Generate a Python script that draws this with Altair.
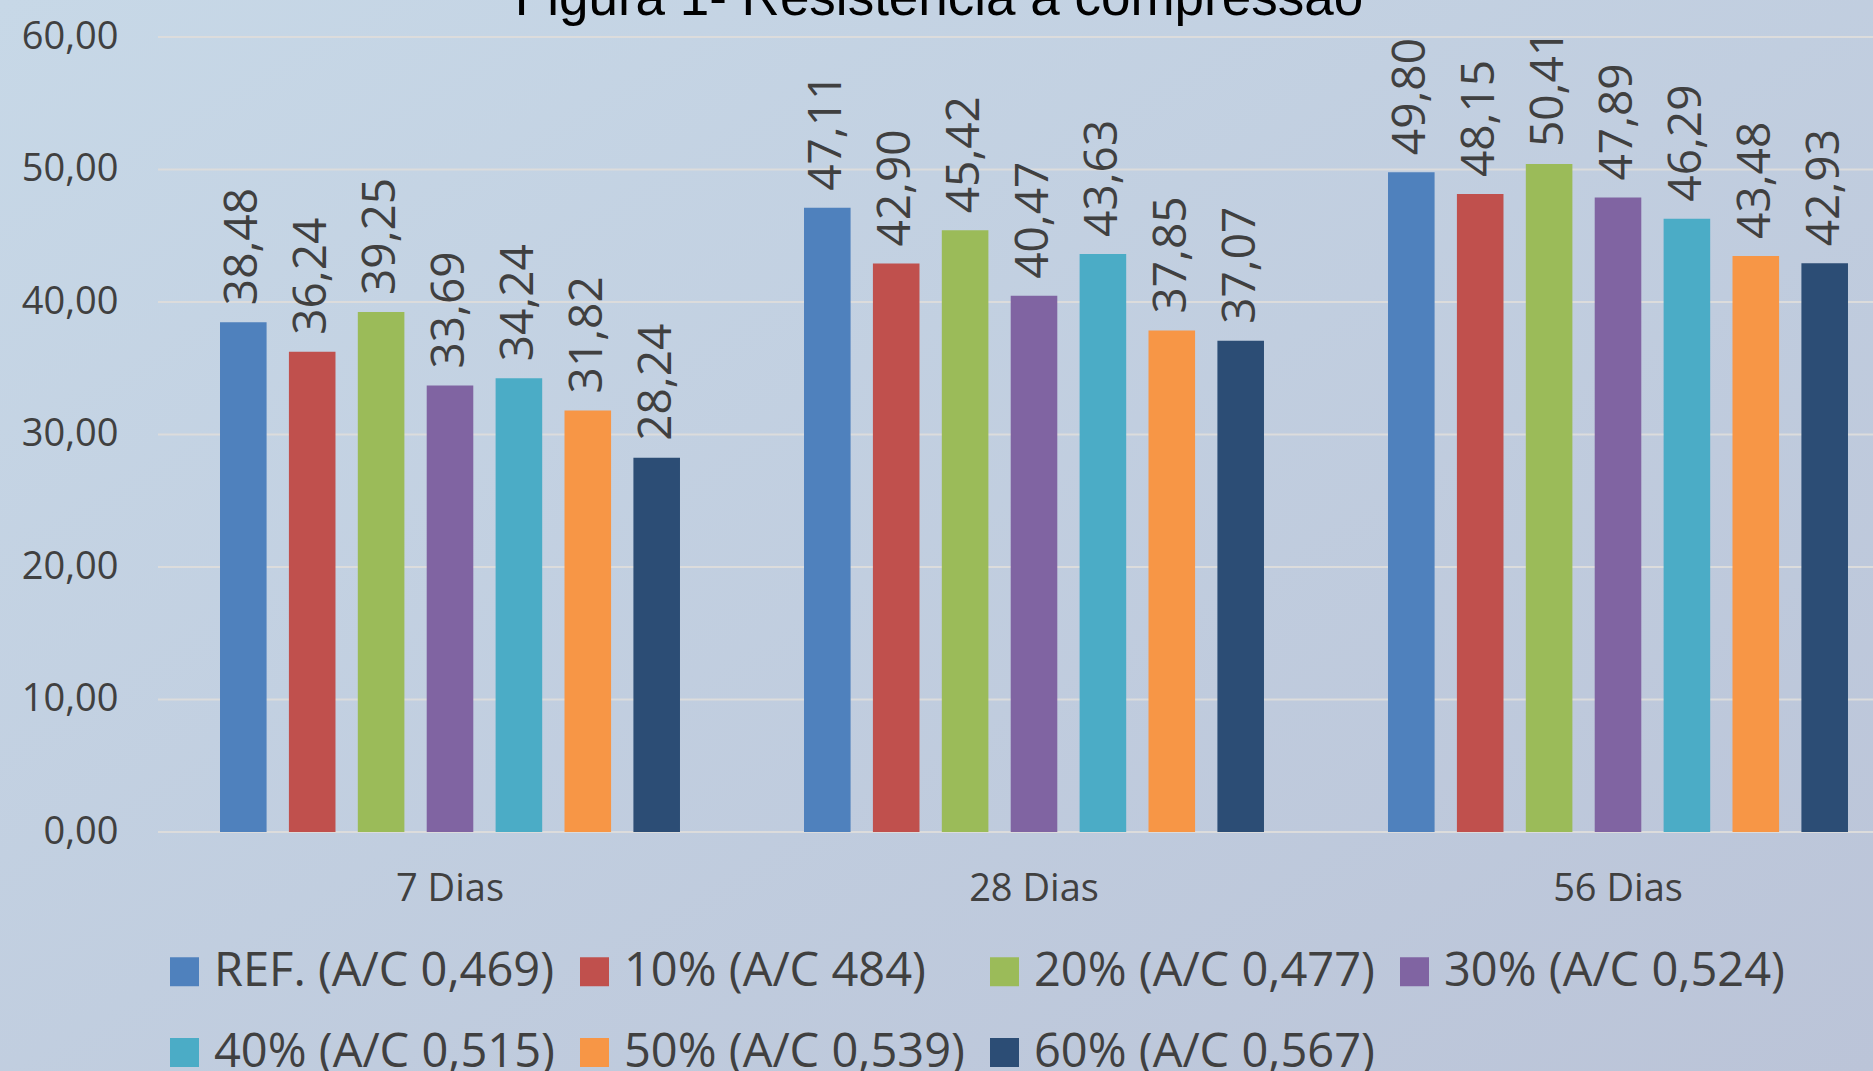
import altair as alt
import pandas as pd

titulo = "Figura 1- Resistência à compressão"
categories = ["7 Dias", "28 Dias", "56 Dias"]
series = [
    "REF. (A/C 0,469)",
    "10% (A/C 484)",
    "20% (A/C 0,477)",
    "30% (A/C 0,524)",
    "40% (A/C 0,515)",
    "50% (A/C 0,539)",
    "60% (A/C 0,567)",
]
colors = ["#4F81BD", "#C0504D", "#9BBB59", "#8064A2", "#4BACC6", "#F79646", "#2C4D75"]

ref = [38.48, 47.11, 49.80]
p10 = [36.24, 42.90, 48.15]
p20 = [39.25, 45.42, 50.41]
p30 = [33.69, 40.47, 47.89]
p40 = [34.24, 43.63, 46.29]
p50 = [31.82, 37.85, 43.48]
p60 = [28.24, 37.07, 42.93]
values = [ref, p10, p20, p30, p40, p50, p60]

y_ticks = [0, 10, 20, 30, 40, 50, 60]

rows = []
for s, vals in zip(series, values):
    for c, v in zip(categories, vals):
        rows.append({"idade": c, "serie": s, "valor": v,
                     "rotulo": f"{v:.2f}".replace(".", ",")})
df = pd.DataFrame(rows)
grid_df = pd.DataFrame({"valor": y_ticks})

W, H = 1715, 795
PAD_L, PAD_T = 158, 37
FONT = "Open Sans"
TXT = "#404040"

x_enc = alt.X(
    "idade:N", sort=categories,
    scale=alt.Scale(domain=categories, range=[0, 1752], paddingInner=0, paddingOuter=0),
    axis=alt.Axis(title=None, labelAngle=0, ticks=False, domain=False, grid=False, zindex=1,
                  labelFont=FONT, labelFontSize=38, labelColor=TXT,
                  labelBaseline="middle", labelPadding=57),
)
xoff_enc = alt.XOffset("serie:N", sort=series,
                       scale=alt.Scale(domain=series, paddingInner=0.324, paddingOuter=0.9))
y_enc = alt.Y(
    "valor:Q",
    scale=alt.Scale(domain=[0, 60], nice=False, zero=True),
    axis=alt.Axis(title=None, values=y_ticks, ticks=False, domain=False, grid=False, zindex=1,
                  labelExpr="replace(format(datum.value, '.2f'), '.', ',')",
                  labelFont=FONT, labelFontSize=38, labelColor=TXT, labelPadding=40),
)

bg = alt.Chart(pd.DataFrame({"a": [0]})).mark_rect(
    fill=alt.LinearGradient(
        gradient="linear", x1=0, y1=0, x2=1, y2=1,
        stops=[alt.GradientStop(offset=0, color="#c7d8e7"),
               alt.GradientStop(offset=1, color="#bbc4d8")],
    )
).encode(x=alt.value(-PAD_L), x2=alt.value(W), y=alt.value(-PAD_T), y2=alt.value(1071 - PAD_T))

grid = alt.Chart(grid_df).mark_rule(color="#dcdcdc", strokeWidth=2).encode(
    y=y_enc, x=alt.value(0), x2=alt.value(W)
)

bars = alt.Chart(df).mark_bar().encode(
    x=x_enc, xOffset=xoff_enc, y=y_enc,
    color=alt.Color(
        "serie:N", sort=series,
        scale=alt.Scale(domain=series, range=colors),
        legend=alt.Legend(
            title=None, orient="none", legendX=3, legendY=911,
            direction="horizontal", columns=4, padding=0,
            symbolType="square", symbolSize=840, symbolStrokeWidth=0, symbolOpacity=1,
            labelFont=FONT, labelFontSize=47, labelColor=TXT, labelLimit=800,
            labelOffset=6, columnPadding=16, rowPadding=33,
        ),
    ),
)

labels = alt.Chart(df).mark_text(
    angle=270, align="left", baseline="middle", dx=17,
    font=FONT, fontSize=46, color=TXT,
).encode(x=x_enc, xOffset=xoff_enc, y=y_enc, text="rotulo:N")

title = alt.Chart(pd.DataFrame({"t": [titulo]})).mark_text(
    font="Liberation Sans", fontSize=53, color="#000000", align="center", baseline="alphabetic"
).encode(x=alt.value(781), y=alt.value(-22), text="t:N")

chart = alt.layer(bg, grid, bars, labels, title).properties(
    width=W, height=H,
    padding={"left": PAD_L, "top": PAD_T, "right": 0, "bottom": 1071 - PAD_T - H},
    autosize=alt.AutoSizeParams(type="none"),
).configure(background="#c2d0df").configure_view(strokeWidth=0)

chart.save("out.html", embed_options={"renderer": "svg", "actions": False})
